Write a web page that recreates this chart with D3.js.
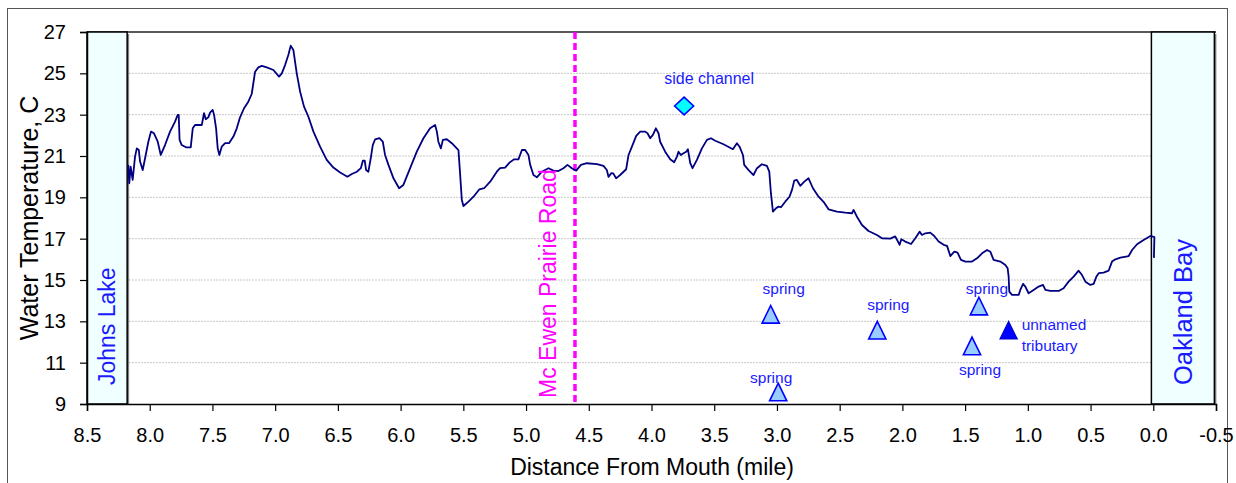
<!DOCTYPE html>
<html>
<head>
<meta charset="utf-8">
<script src="https://cdn.jsdelivr.net/npm/d3@7"></script>
<style>
  html, body { margin: 0; padding: 0; background: #ffffff; }
  svg { display: block; }
  text { font-family: "Liberation Sans", Arial, sans-serif; }
</style>
</head>
<body>
<svg id="chart" width="1236" height="483"></svg>
<script>
// ---------------- DATA ----------------
const distance = [
  8.171, 8.163, 8.152, 8.136, 8.117, 8.103, 8.087, 8.077, 8.056, 8.037,
  8.011, 7.990, 7.966, 7.936, 7.912, 7.878, 7.838, 7.798, 7.777, 7.769,
  7.762, 7.745, 7.711, 7.673, 7.657, 7.639, 7.585, 7.567, 7.553, 7.533,
  7.519, 7.498, 7.487, 7.471, 7.458, 7.445, 7.426, 7.399, 7.368, 7.333,
  7.306, 7.280, 7.248, 7.214, 7.187, 7.174, 7.160, 7.134, 7.107, 7.067,
  7.014, 6.969, 6.947, 6.921, 6.895, 6.876, 6.855, 6.828, 6.801, 6.770,
  6.735, 6.695, 6.642, 6.589, 6.536, 6.482, 6.424, 6.389, 6.349, 6.317,
  6.301, 6.286, 6.275, 6.257, 6.238, 6.222, 6.203, 6.169, 6.142, 6.124,
  6.097, 6.057, 6.012, 5.978, 5.924, 5.871, 5.818, 5.765, 5.725, 5.711,
  5.699, 5.679, 5.663, 5.632, 5.592, 5.539, 5.526, 5.512, 5.499, 5.459,
  5.419, 5.372, 5.334, 5.286, 5.233, 5.207, 5.167, 5.132, 5.095, 5.061,
  5.033, 5.007, 4.981, 4.967, 4.941, 4.914, 4.874, 4.821, 4.782, 4.742,
  4.702, 4.670, 4.635, 4.600, 4.563, 4.515, 4.435, 4.383, 4.356, 4.343,
  4.320, 4.305, 4.282, 4.250, 4.202, 4.183, 4.156, 4.122, 4.090, 4.050,
  4.032, 4.010, 3.989, 3.965, 3.944, 3.931, 3.891, 3.851, 3.819, 3.797,
  3.785, 3.766, 3.745, 3.723, 3.710, 3.691, 3.673, 3.638, 3.598, 3.558,
  3.526, 3.492, 3.426, 3.351, 3.319, 3.298, 3.271, 3.261, 3.226, 3.187,
  3.159, 3.120, 3.080, 3.061, 3.048, 3.032, 3.008, 2.987, 2.968, 2.934,
  2.900, 2.880, 2.862, 2.841, 2.814, 2.782, 2.748, 2.713, 2.668, 2.623,
  2.589, 2.522, 2.455, 2.402, 2.389, 2.362, 2.322, 2.270, 2.203, 2.163,
  2.096, 2.057, 2.022, 2.009, 1.977, 1.931, 1.897, 1.863, 1.844, 1.817,
  1.778, 1.746, 1.711, 1.671, 1.644, 1.618, 1.586, 1.560, 1.533, 1.498,
  1.445, 1.405, 1.365, 1.325, 1.299, 1.273, 1.219, 1.179, 1.161, 1.153,
  1.148, 1.126, 1.073, 1.060, 1.038, 1.020, 0.994, 0.954, 0.914, 0.879,
  0.860, 0.821, 0.754, 0.715, 0.675, 0.635, 0.595, 0.568, 0.541, 0.502,
  0.475, 0.454, 0.435, 0.396, 0.356, 0.329, 0.302, 0.262, 0.196, 0.169,
  0.129, 0.077, 0.023, -0.009, -0.005
];
const temperature = [
  20.57, 19.68, 20.48, 19.84, 20.97, 21.37, 21.29, 20.73, 20.32, 20.89,
  21.69, 22.18, 22.10, 21.69, 21.05, 21.53, 22.18, 22.66, 22.99, 22.99,
  21.78, 21.53, 21.42, 21.42, 22.34, 22.50, 22.50, 23.07, 22.78, 22.87,
  23.10, 23.23, 22.99, 22.34, 21.37, 21.05, 21.45, 21.62, 21.62, 21.94,
  22.34, 22.87, 23.31, 23.63, 24.00, 24.52, 25.08, 25.29, 25.36, 25.29,
  25.16, 24.84, 25.00, 25.40, 25.89, 26.34, 26.13, 25.00, 24.11, 23.39,
  22.90, 22.18, 21.45, 20.81, 20.44, 20.20, 20.00, 20.13, 20.24, 20.41,
  20.77, 20.77, 20.32, 20.24, 20.89, 21.53, 21.81, 21.86, 21.69, 21.05,
  20.57, 19.92, 19.44, 19.60, 20.41, 21.21, 21.86, 22.34, 22.50, 22.18,
  21.69, 21.37, 21.78, 21.81, 21.62, 21.29, 20.16, 18.87, 18.58, 18.79,
  19.03, 19.39, 19.44, 19.76, 20.24, 20.41, 20.44, 20.68, 20.84, 20.84,
  21.29, 21.29, 21.05, 20.57, 20.08, 19.97, 20.24, 20.41, 20.29, 20.27,
  20.41, 20.57, 20.41, 20.29, 20.57, 20.65, 20.61, 20.52, 20.32, 19.99,
  20.17, 20.16, 19.92, 20.08, 20.36, 21.05, 21.45, 21.97, 22.18, 22.18,
  22.10, 21.86, 22.02, 22.34, 22.10, 21.69, 21.21, 20.84, 20.70, 20.97,
  21.21, 21.05, 21.13, 21.21, 21.33, 20.65, 20.41, 20.81, 21.37, 21.78,
  21.86, 21.74, 21.57, 21.33, 21.62, 21.45, 21.05, 20.57, 20.32, 20.08,
  20.41, 20.60, 20.52, 20.24, 19.20, 18.31, 18.47, 18.55, 18.52, 18.79,
  19.03, 19.36, 19.81, 19.84, 19.56, 19.76, 19.92, 19.44, 19.03, 18.74,
  18.42, 18.31, 18.26, 18.23, 18.39, 18.06, 17.66, 17.37, 17.18, 17.02,
  17.00, 17.11, 16.70, 16.97, 16.86, 16.74, 17.02, 17.34, 17.18, 17.26,
  17.29, 17.13, 16.86, 16.70, 16.65, 16.16, 16.37, 16.32, 15.97, 15.89,
  15.89, 16.05, 16.29, 16.45, 16.37, 15.97, 15.89, 15.73, 15.57, 15.16,
  14.44, 14.28, 14.28, 14.52, 14.81, 14.68, 14.36, 14.52, 14.68, 14.76,
  14.52, 14.47, 14.47, 14.60, 14.92, 15.16, 15.45, 15.24, 14.92, 14.76,
  14.81, 15.16, 15.33, 15.36, 15.45, 15.89, 16.00, 16.08, 16.16, 16.45,
  16.73, 16.94, 17.13, 17.07, 16.07
];

const springDist  = [3.05, 2.20, 1.39, 1.445, 2.99];
const springTemp  = [13.34, 12.57, 13.74, 11.81, 9.58];
const springLabel = ["spring", "spring", "spring", "spring", "spring"];

const tributaryDist  = [1.153];
const tributaryTemp  = [12.57];
const tributaryLabel = ["unnamed", "tributary"];

const sideChannelDist  = [3.74];
const sideChannelTemp  = [23.42];
const sideChannelLabel = ["side channel"];

const roadDist  = [4.61];
const roadLabel = ["Mc Ewen Prairie Road"];

const lakeRange = [8.5, 8.18];
const bayRange  = [0.015, -0.487];
const lakeLabel = ["Johns Lake"];
const bayLabel  = ["Oakland Bay"];

const xTicks = [8.5, 8.0, 7.5, 7.0, 6.5, 6.0, 5.5, 5.0, 4.5, 4.0, 3.5, 3.0, 2.5, 2.0, 1.5, 1.0, 0.5, 0.0, -0.5];
const yTicks = [9, 11, 13, 15, 17, 19, 21, 23, 25, 27];
const gridTicks = [11, 13, 15, 17, 19, 21, 23, 25];

const xTitle = "Distance From Mouth (mile)";
const yTitle = "Water Temperature, C";

// ---------------- LAYOUT ----------------
const svg = d3.select("#chart");
const x = d3.scaleLinear().domain([8.5, -0.5]).range([87, 1216]);
const y = d3.scaleLinear().domain([9, 27]).range([404, 32]);
const BLUE = "#1a1aff";

// outer chart border
svg.append("rect").attr("x", 7.5).attr("y", 8.5).attr("width", 1220).attr("height", 500)
  .attr("fill", "#ffffff").attr("stroke", "#555").attr("stroke-width", 1);

// gridlines
svg.append("g").selectAll("line").data(gridTicks).join("line")
  .attr("x1", x(8.5)).attr("x2", x(-0.5))
  .attr("y1", d => y(d)).attr("y2", d => y(d))
  .attr("stroke", "#c8c8c8").attr("stroke-width", 1).attr("stroke-dasharray", "2,1");

// top border
svg.append("line").attr("x1", x(8.5)).attr("x2", x(-0.5)).attr("y1", y(27)).attr("y2", y(27))
  .attr("stroke", "#222").attr("stroke-width", 1.5);

// region boxes with shadow
function regionBox(range) {
  const x0 = x(range[0]), x1 = x(range[1]);
  svg.append("rect").attr("x", x0 + 2).attr("y", y(27) + 2).attr("width", x1 - x0).attr("height", y(9) - y(27) - 2)
    .attr("fill", "#808080");
  svg.append("rect").attr("x", x0).attr("y", y(27)).attr("width", x1 - x0).attr("height", y(9) - y(27))
    .attr("fill", "#f0ffff").attr("stroke", "#000").attr("stroke-width", 1.5);
}
regionBox(lakeRange);
regionBox(bayRange);

// road line
svg.append("line").attr("x1", x(roadDist[0])).attr("x2", x(roadDist[0]))
  .attr("y1", y(27)).attr("y2", y(9))
  .attr("stroke", "#ff00ff").attr("stroke-width", 3.5).attr("stroke-dasharray", "7,4");

// temperature line
const pts = distance.map((d, i) => [d, temperature[i]]);
svg.append("path").datum(pts)
  .attr("fill", "none").attr("stroke", "#000080").attr("stroke-width", 1.8)
  .attr("stroke-linejoin", "round")
  .attr("d", d3.line().x(d => x(d[0])).y(d => y(d[1])));

// axes
const xAxis = d3.axisBottom(x).tickValues(xTicks).tickSize(7).tickPadding(17)
  .tickFormat(d => d.toFixed(1));
const gx = svg.append("g").attr("transform", `translate(0,${y(9)})`).call(xAxis);
gx.select(".domain").attr("stroke", "#000").attr("stroke-width", 1.5);
gx.selectAll(".tick line").attr("stroke", "#000").attr("stroke-width", 1.2);
gx.selectAll("text").attr("font-size", 20).attr("fill", "#000")
  .style("font-family", '"Liberation Sans", Arial, sans-serif');

const yAxis = d3.axisLeft(y).tickValues(yTicks).tickSize(7).tickPadding(14).tickFormat(d3.format("d"));
const gy = svg.append("g").attr("transform", `translate(${x(8.5)},0)`).call(yAxis);
gy.select(".domain").attr("stroke", "#000").attr("stroke-width", 1.5);
gy.selectAll(".tick line").attr("stroke", "#000").attr("stroke-width", 1.2);
gy.selectAll("text").attr("font-size", 20).attr("fill", "#000")
  .style("font-family", '"Liberation Sans", Arial, sans-serif');

// axis titles
svg.append("text").attr("x", 652).attr("y", 475).attr("text-anchor", "middle")
  .attr("font-size", 23).attr("fill", "#000").text(xTitle);
svg.append("text").attr("transform", `translate(29,218) rotate(-90)`).attr("text-anchor", "middle")
  .attr("dominant-baseline", "central").attr("font-size", 25).attr("fill", "#000").text(yTitle);

// vertical labels
function vLabel(cx, bottom, txt, color, size) {
  svg.append("text").attr("transform", `translate(${cx},${bottom}) rotate(-90)`)
    .attr("dominant-baseline", "central").attr("font-size", size).attr("fill", color).text(txt);
}
vLabel((x(lakeRange[0]) + x(lakeRange[1])) / 2, 385, lakeLabel[0], BLUE, 23);
vLabel((x(bayRange[0]) + x(bayRange[1])) / 2, 385, bayLabel[0], BLUE, 25.5);
vLabel(x(roadDist[0]) - 27, 398, roadLabel[0], "#ff00ff", 23);

// markers
const tri = "M0,-8.8L8.6,8.8L-8.6,8.8Z";
const diamond = "M0,-8.8L9.5,0L0,8.8L-9.5,0Z";
const springOffsets = [[13, -26], [11, -26], [8, -18], [8, 24], [-7, -15]];

springDist.forEach((d, i) => {
  const px = x(d), py = y(springTemp[i]);
  svg.append("path").attr("d", tri).attr("transform", `translate(${px},${py})`)
    .attr("fill", "#99ccff").attr("stroke", "#0000ff").attr("stroke-width", 1.6);
  svg.append("text").attr("x", px + springOffsets[i][0]).attr("y", py + springOffsets[i][1])
    .attr("text-anchor", "middle").attr("dominant-baseline", "central")
    .attr("font-size", 15.5).attr("fill", BLUE).text(springLabel[i]);
});

tributaryDist.forEach((d, i) => {
  const px = x(d), py = y(tributaryTemp[i]);
  svg.append("path").attr("d", tri).attr("transform", `translate(${px},${py})`)
    .attr("fill", "#0000ff").attr("stroke", "#0000cc").attr("stroke-width", 1.2);
  svg.append("text").attr("x", px + 13).attr("y", py - 6).attr("dominant-baseline", "central")
    .attr("font-size", 15.5).attr("fill", BLUE).text(tributaryLabel[0]);
  svg.append("text").attr("x", px + 13).attr("y", py + 15.5).attr("dominant-baseline", "central")
    .attr("font-size", 15.5).attr("fill", BLUE).text(tributaryLabel[1]);
});

sideChannelDist.forEach((d, i) => {
  const px = x(d), py = y(sideChannelTemp[i]);
  svg.append("path").attr("d", diamond).attr("transform", `translate(${px},${py})`)
    .attr("fill", "#00ffff").attr("stroke", "#0000ff").attr("stroke-width", 1.6);
  svg.append("text").attr("x", px + 25).attr("y", py - 27).attr("text-anchor", "middle")
    .attr("dominant-baseline", "central").attr("font-size", 16).attr("fill", BLUE).text(sideChannelLabel[i]);
});
</script>
</body>
</html>
